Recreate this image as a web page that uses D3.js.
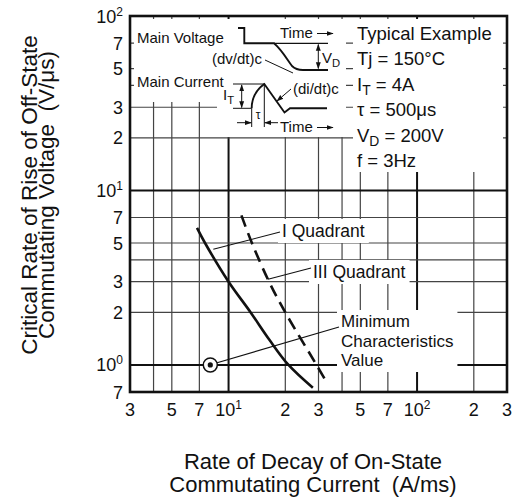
<!DOCTYPE html>
<html>
<head>
<meta charset="utf-8">
<script src="https://cdn.jsdelivr.net/npm/d3@7"></script>
<style>
  body { margin: 0; background: #fff; }
  svg { display: block; font-family: "Liberation Sans", Arial, Helvetica, sans-serif; }
  text { white-space: pre; fill: #111; }
</style>
</head>
<body>
<svg id="chart" width="515" height="504"></svg>
<script>
// Commutation characteristics: critical (dv/dt)c versus (di/dt)c, log–log axes
const xDomain = [3, 300];
const yDomain = [0.7, 100];
const gridMantissas = [1, 2, 3, 4, 5, 7];
const xTickValues = [3, 5, 7, 10, 20, 30, 50, 70, 100, 200, 300];
const xTickLabels = ["3", "5", "7", "10^1", "2", "3", "5", "7", "10^2", "2", "3"];
const yTickValues = [0.7, 1, 2, 3, 5, 7, 10, 20, 30, 50, 70, 100];
const yTickLabels = ["7", "10^0", "2", "3", "5", "7", "10^1", "2", "3", "5", "7", "10^2"];

// I quadrant (solid) and III quadrant (dashed) typical curves
const q1Current = [6.8, 7.5, 10, 13.1, 16.5, 20.8, 28.0];
const q1Dvdt    = [6.1, 5.0, 3.0, 2.0, 1.39, 1.0, 0.74];
const q3Current = [11.7, 13.3, 16.4, 20.0, 29.3, 33.3];
const q3Dvdt    = [7.2, 5.0, 3.0, 2.0, 1.0, 0.79];
// Minimum characteristics value
const minCurrent = [8];
const minDvdt = [1];

const conditions = ["Typical Example", "Tj = 150°C", "I_T = 4A", "τ = 500μs", "V_D = 200V", "f = 3Hz"];
const xTitle = ["Rate of Decay of On-State", "Commutating Current  (A/ms)"];
const yTitle = ["Critical Rate of Rise of Off-State", "Commutating Voltage  (V/μs)"];

const svg = d3.select("#chart");
const plot = { left: 130, right: 507, top: 16, bottom: 392 };
const x = d3.scaleLog().domain(xDomain).range([plot.left, plot.right]);
const y = d3.scaleLog().domain(yDomain).range([plot.bottom, plot.top]);

svg.append("defs").append("marker")
  .attr("id", "arrow").attr("viewBox", "0 0 10 10").attr("refX", 9).attr("refY", 5)
  .attr("markerWidth", 7).attr("markerHeight", 7).attr("markerUnits", "userSpaceOnUse")
  .attr("orient", "auto-start-reverse")
  .append("path").attr("d", "M0,1.5 L10,5 L0,8.5 Z").attr("fill", "#111");

function gridValues(domain) {
  const out = [];
  for (let e = -1; e <= 3; e++) for (const m of gridMantissas) {
    const v = +(m * Math.pow(10, e)).toPrecision(6);
    if (v >= domain[0] * 0.9999 && v <= domain[1] * 1.0001) out.push(v);
  }
  return out;
}
const isDecade = v => Math.abs(Math.log10(v) - Math.round(Math.log10(v))) < 1e-9;

// grid
const grid = svg.append("g");
grid.selectAll("line.gx").data(gridValues(xDomain)).join("line").attr("class", "gx")
  .attr("x1", d => x(d)).attr("x2", d => x(d)).attr("y1", plot.top).attr("y2", plot.bottom)
  .attr("stroke", d => isDecade(d) ? "#111" : "#444").attr("stroke-width", d => isDecade(d) ? 2 : 1.2);
grid.selectAll("line.gy").data(gridValues(yDomain)).join("line").attr("class", "gy")
  .attr("y1", d => y(d)).attr("y2", d => y(d)).attr("x1", plot.left).attr("x2", plot.right)
  .attr("stroke", d => isDecade(d) ? "#111" : "#444").attr("stroke-width", d => isDecade(d) ? 2 : 1.2);

// white panels behind the waveform sketch and the test conditions
const panels = [
  [134, 19, 83, 83],
  [217, 19, 129, 118],
  [353, 19, 150, 153]
];
svg.append("g").selectAll("rect").data(panels).join("rect")
  .attr("x", d => d[0]).attr("y", d => d[1]).attr("width", d => d[2]).attr("height", d => d[3])
  .attr("fill", "#fff");

// curves
const line = d3.line().x(d => x(d[0])).y(d => y(d[1])).curve(d3.curveCatmullRom.alpha(0.5));
svg.append("path").datum(d3.zip(q1Current, q1Dvdt)).attr("d", line)
  .attr("fill", "none").attr("stroke", "#111").attr("stroke-width", 2.6);
svg.append("path").datum(d3.zip(q3Current, q3Dvdt)).attr("d", line)
  .attr("fill", "none").attr("stroke", "#111").attr("stroke-width", 2.6)
  .attr("stroke-dasharray", "12,7");

// labelled annotations with white backing
function label(lines, tx, ty, lh, fs) {
  const g = svg.append("g");
  const bg = g.append("rect").attr("fill", "#fff");
  const t = g.append("text").attr("font-size", fs);
  lines.forEach((s, i) => t.append("tspan").attr("x", tx).attr("y", ty + i * lh).text(s));
  const b = t.node().getBBox();
  bg.attr("x", b.x - 4).attr("y", b.y - 2).attr("width", b.width + 8).attr("height", b.height + 4);
  return g;
}
function leader(x1, y1, x2, y2) {
  svg.append("line").attr("x1", x1).attr("y1", y1).attr("x2", x2).attr("y2", y2)
    .attr("stroke", "#111").attr("stroke-width", 1.1);
}

label(["I Quadrant"], 282, 237, 0, 17.5);
leader(280, 232, x(8.3), y(4.6));
label(["III Quadrant"], 313, 278, 0, 17.5);
leader(311, 268, x(16.2), y(3.1));
label(["Minimum", "Characteristics", "Value"], 341, 327, 19.5, 17);
leader(339, 327, x(minCurrent[0]) + 6, y(minDvdt[0]) - 2);

// minimum value marker
svg.append("g").selectAll("circle.m").data(d3.zip(minCurrent, minDvdt)).join("circle").attr("class", "m")
  .attr("cx", d => x(d[0])).attr("cy", d => y(d[1])).attr("r", 7)
  .attr("fill", "#fff").attr("stroke", "#111").attr("stroke-width", 1.5);
svg.append("g").selectAll("circle.d").data(d3.zip(minCurrent, minDvdt)).join("circle").attr("class", "d")
  .attr("cx", d => x(d[0])).attr("cy", d => y(d[1])).attr("r", 2.6).attr("fill", "#111");

// frame
svg.append("rect").attr("x", plot.left).attr("y", plot.top)
  .attr("width", plot.right - plot.left).attr("height", plot.bottom - plot.top)
  .attr("fill", "none").attr("stroke", "#111").attr("stroke-width", 2.6);

// tick labels with superscript exponents
function putLabel(sel, s) {
  const [base, sup] = s.split("^");
  sel.append("tspan").text(base);
  if (sup !== undefined) sel.append("tspan").attr("dy", -7).attr("font-size", 12).text(sup);
}
const xAxis = svg.append("g");
xTickValues.forEach((v, i) => {
  const t = xAxis.append("text").attr("x", x(v)).attr("y", 416).attr("text-anchor", "middle").attr("font-size", 18);
  putLabel(t, xTickLabels[i]);
});
const yAxis = svg.append("g");
yTickValues.forEach((v, i) => {
  const t = yAxis.append("text").attr("x", 123).attr("y", y(v) + 6.5).attr("text-anchor", "end").attr("font-size", 18);
  putLabel(t, yTickLabels[i]);
});

// axis titles
const xt = svg.append("text").attr("text-anchor", "middle").attr("font-size", 22);
xTitle.forEach((s, i) => xt.append("tspan").attr("x", 313).attr("y", 469 + i * 23).text(s));
const yt = svg.append("text").attr("text-anchor", "middle").attr("font-size", 22.5)
  .attr("transform", "translate(0,195) rotate(-90)");
yTitle.forEach((s, i) => yt.append("tspan").attr("x", 0).attr("y", 36.5 + i * 17.5).text(s));

// test conditions
function subText(sel, s) {
  const [a, rest] = s.split("_");
  if (rest === undefined) { sel.text(s); return; }
  const m = rest.match(/^(\S)(.*)$/);
  sel.append("tspan").text(a);
  sel.append("tspan").attr("font-size", "0.75em").attr("dy", 4).text(m[1]);
  sel.append("tspan").attr("dy", -4).text(m[2]);
}
const cond = svg.append("g");
conditions.forEach((s, i) => {
  const t = cond.append("text").attr("x", 357).attr("y", 39.5 + i * 25.5).attr("font-size", 18.5);
  subText(t, s);
});

// waveform sketch defining (dv/dt)c and (di/dt)c
const sk = svg.append("g").attr("fill", "none").attr("stroke", "#111");
const skText = svg.append("g").attr("font-size", 15);
skText.append("text").attr("x", 137).attr("y", 43).text("Main Voltage");
skText.append("text").attr("x", 137).attr("y", 87).text("Main Current");
skText.append("text").attr("x", 212).attr("y", 64).text("(dv/dt)c");
skText.append("text").attr("x", 293).attr("y", 94).text("(di/dt)c");
skText.append("text").attr("x", 280).attr("y", 38).text("Time");
skText.append("text").attr("x", 280).attr("y", 132).text("Time");
subText(skText.append("text").attr("x", 322).attr("y", 63), "V_D");
subText(skText.append("text").attr("x", 223).attr("y", 100), "I_T");
skText.append("text").attr("x", 258).attr("y", 119).attr("font-size", 12).attr("text-anchor", "middle").text("τ");

// voltage trace
sk.append("path").attr("stroke-width", 1.9)
  .attr("d", "M238,28 H244.3 V43.3 H274 C282,50 288,61 292,66 Q296,70 303,70 H328");
sk.append("path").attr("stroke-width", 1.2).attr("d", "M274,43.3 H328");
sk.append("line").attr("x1", 318.3).attr("y1", 44.5).attr("x2", 318.3).attr("y2", 68.5)
  .attr("stroke-width", 1).attr("marker-start", "url(#arrow)").attr("marker-end", "url(#arrow)");
sk.append("line").attr("x1", 317).attr("y1", 33.5).attr("x2", 333).attr("y2", 33.5)
  .attr("stroke-width", 1).attr("marker-end", "url(#arrow)");
sk.append("line").attr("x1", 265).attr("y1", 60).attr("x2", 293).attr("y2", 73).attr("stroke-width", 1);

// current trace
sk.append("path").attr("stroke-width", 1.9)
  .attr("d", "M251.7,108.3 C251.7,97 256,90 264.3,84 L284.5,112.5 L290,108.3 H327");
sk.append("path").attr("stroke-width", 1).attr("d", "M233,84 H264.3 M233,108.3 H251.7 M251.7,108.3 V127 M264.3,84 V127");
sk.append("line").attr("x1", 241.7).attr("y1", 85).attr("x2", 241.7).attr("y2", 107.5)
  .attr("stroke-width", 1).attr("marker-start", "url(#arrow)").attr("marker-end", "url(#arrow)");
sk.append("line").attr("x1", 237).attr("y1", 122.7).attr("x2", 251.2).attr("y2", 122.7)
  .attr("stroke-width", 1).attr("marker-end", "url(#arrow)");
sk.append("line").attr("x1", 278).attr("y1", 122.7).attr("x2", 264.8).attr("y2", 122.7)
  .attr("stroke-width", 1).attr("marker-end", "url(#arrow)");
sk.append("line").attr("x1", 317).attr("y1", 127.5).attr("x2", 333).attr("y2", 127.5)
  .attr("stroke-width", 1).attr("marker-end", "url(#arrow)");
sk.append("line").attr("x1", 291).attr("y1", 89).attr("x2", 277).attr("y2", 101)
  .attr("stroke-width", 1).attr("marker-end", "url(#arrow)");
</script>
</body>
</html>
